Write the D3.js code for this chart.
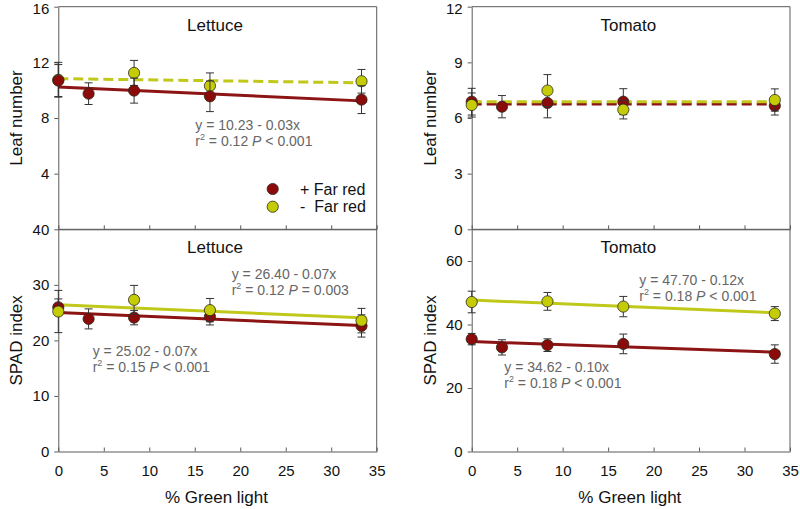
<!DOCTYPE html>
<html>
<head>
<meta charset="utf-8">
<script src="https://cdn.jsdelivr.net/npm/d3@7"></script>
<style>
  html, body { margin: 0; padding: 0; background: #fff; }
  svg { display: block; font-family: "Liberation Sans", Arial, sans-serif; }
</style>
</head>
<body>
<svg id="chart" width="800" height="509"></svg>
<script>
// ---------- data ----------
const xPlusFR = [0, 3.33, 8.33, 16.67, 33.33];
const xMinusFR = [0, 8.33, 16.67, 33.33];
const xTicks = [0, 5, 10, 15, 20, 25, 30, 35];

const lettuceLeafPlus = [10.69, 9.75, 9.97, 9.56, 9.32];
const lettuceLeafPlusErr = [1.15, 0.78, 0.9, 1.1, 1.0];
const lettuceLeafMinus = [10.75, 11.24, 10.31, 10.64];
const lettuceLeafMinusErr = [1.25, 0.9, 0.93, 0.85];

const tomatoLeafPlus = [6.88, 6.61, 6.81, 6.88, 6.66];
const tomatoLeafPlusErr = [0.72, 0.6, 0.8, 0.7, 0.5];
const tomatoLeafMinus = [6.70, 7.48, 6.45, 6.97];
const tomatoLeafMinusErr = [0.65, 0.86, 0.5, 0.6];

const lettuceSpadPlus = [25.97, 23.87, 24.1, 24.28, 22.6];
const lettuceSpadPlusErr = [1.5, 1.8, 1.3, 1.5, 2.0];
const lettuceSpadMinus = [25.2, 27.3, 25.45, 23.56];
const lettuceSpadMinusErr = [3.8, 2.6, 2.1, 2.2];

const tomatoSpadPlus = [35.4, 32.8, 33.5, 33.9, 30.7];
const tomatoSpadPlusErr = [1.8, 2.4, 2.0, 3.1, 2.9];
const tomatoSpadMinus = [47.1, 47.3, 45.65, 43.45];
const tomatoSpadMinusErr = [3.4, 2.8, 3.2, 2.2];

// regression fits: [intercept, slope]
const fitLettuceLeafPlus = [10.23, -0.03];
const fitLettuceLeafMinus = [10.83, -0.009];
const fitTomatoLeafPlus = [6.76, 0];
const fitTomatoLeafMinus = [6.88, 0];
const fitLettuceSpadPlus = [25.02, -0.07];
const fitLettuceSpadMinus = [26.40, -0.07];
const fitTomatoSpadPlus = [34.62, -0.10];
const fitTomatoSpadMinus = [47.70, -0.12];
const fitRange = [0, 33.9];

const legendLabels = ["+ Far red", "-  Far red"];

// ---------- style ----------
const RED = "#8b0a0a", RED_LINE = "#8c1414";
const YEL = "#c5cc05", YEL_LINE = "#c0c81a";
const AXIS = "#5a5a5a";

const svg = d3.select("#chart");

const colLeft = [58.3, 376.7], colRight = [471.7, 790];
const rowTop = [6.7, 229.3], rowBot = [229.3, 451.5];

const panels = [
  { title: "Lettuce", xr: colLeft, yr: rowTop, domain: [0, 16], yTicks: [4, 8, 12, 16], ylabel: "Leaf number",
    plus: lettuceLeafPlus, plusErr: lettuceLeafPlusErr, minus: lettuceLeafMinus, minusErr: lettuceLeafMinusErr,
    fitPlus: fitLettuceLeafPlus, fitMinus: fitLettuceLeafMinus, dashPlus: false, dashMinus: true,
    redOnTop: true, xLabels: false, legend: true,
    eqs: [{ dx: 137, dy: 123, l1: "y = 10.23 - 0.03x", r2: "0.12", p: "< 0.001" }] },
  { title: "Tomato", xr: colRight, yr: rowTop, domain: [0, 12], yTicks: [0, 3, 6, 9, 12], ylabel: "Leaf number",
    plus: tomatoLeafPlus, plusErr: tomatoLeafPlusErr, minus: tomatoLeafMinus, minusErr: tomatoLeafMinusErr,
    fitPlus: fitTomatoLeafPlus, fitMinus: fitTomatoLeafMinus, dashPlus: true, dashMinus: true,
    redOnTop: false, xLabels: false, legend: false, eqs: [] },
  { title: "Lettuce", xr: colLeft, yr: rowBot, domain: [0, 40], yTicks: [0, 10, 20, 30, 40], ylabel: "SPAD index",
    plus: lettuceSpadPlus, plusErr: lettuceSpadPlusErr, minus: lettuceSpadMinus, minusErr: lettuceSpadMinusErr,
    fitPlus: fitLettuceSpadPlus, fitMinus: fitLettuceSpadMinus, dashPlus: false, dashMinus: false,
    redOnTop: false, xLabels: true, legend: false,
    eqs: [{ dx: 173.4, dy: 49.7, l1: "y = 26.40 - 0.07x", r2: "0.12", p: "= 0.003" },
          { dx: 34.4, dy: 127, l1: "y = 25.02 - 0.07x", r2: "0.15", p: "< 0.001" }] },
  { title: "Tomato", xr: colRight, yr: rowBot, domain: [0, 70], yTicks: [0, 20, 40, 60], ylabel: "SPAD index",
    plus: tomatoSpadPlus, plusErr: tomatoSpadPlusErr, minus: tomatoSpadMinus, minusErr: tomatoSpadMinusErr,
    fitPlus: fitTomatoSpadPlus, fitMinus: fitTomatoSpadMinus, dashPlus: false, dashMinus: false,
    redOnTop: false, xLabels: true, legend: false,
    eqs: [{ dx: 167.6, dy: 55.7, l1: "y = 47.70 - 0.12x", r2: "0.18", p: "< 0.001" },
          { dx: 32.6, dy: 142.7, l1: "y = 34.62 - 0.10x", r2: "0.18", p: "< 0.001" }] }
];

panels.forEach(p => {
  const x = d3.scaleLinear().domain([0, 35]).range(p.xr);
  const y = d3.scaleLinear().domain(p.domain).range([p.yr[1], p.yr[0]]);
  const g = svg.append("g");

  // frame (top and right)
  g.append("line").attr("x1", p.xr[0]).attr("x2", p.xr[1]).attr("y1", p.yr[0]).attr("y2", p.yr[0])
    .attr("stroke", AXIS).attr("stroke-width", 1);
  g.append("line").attr("x1", p.xr[1]).attr("x2", p.xr[1]).attr("y1", p.yr[0]).attr("y2", p.yr[1])
    .attr("stroke", AXIS).attr("stroke-width", 1);

  // x axis
  const xa = d3.axisBottom(x).tickValues(xTicks).tickSizeInner(-4).tickSizeOuter(0).tickPadding(14);
  if (!p.xLabels) xa.tickFormat("");
  const gx = g.append("g").attr("transform", `translate(0,${p.yr[1]})`).call(xa);
  gx.select(".domain").attr("stroke", AXIS);
  gx.selectAll(".tick line").attr("stroke", AXIS);
  gx.selectAll(".tick text").attr("font-size", 15).attr("fill", "#111").attr("font-family", null);

  // y axis
  const ya = d3.axisLeft(y).tickValues(p.yTicks).tickSizeInner(4).tickSizeOuter(0).tickPadding(5);
  const gy = g.append("g").attr("transform", `translate(${p.xr[0]},0)`).call(ya);
  gy.select(".domain").attr("stroke", AXIS);
  gy.selectAll(".tick line").attr("stroke", AXIS);
  gy.selectAll(".tick text").attr("font-size", 15).attr("fill", "#111").attr("font-family", null);
  // keep the topmost labels inside the page
  if (p.yr === rowTop) {
    gy.selectAll(".tick text").filter(d => d === p.domain[1]).attr("dy", "0.45em");
  }

  // y label
  g.append("text")
    .attr("transform", `translate(${p.xr[0] - 36},${(p.yr[0] + p.yr[1]) / 2}) rotate(-90)`)
    .attr("text-anchor", "middle").attr("font-size", 17).attr("fill", "#111")
    .text(p.ylabel);

  // x label
  if (p.xLabels) {
    g.append("text").attr("x", (p.xr[0] + p.xr[1]) / 2 - 1).attr("y", 502.5)
      .attr("text-anchor", "middle").attr("font-size", 17).attr("fill", "#111")
      .text("% Green light");
  }

  // title
  g.append("text").attr("x", (p.xr[0] + p.xr[1]) / 2 - 2.5).attr("y", p.yr[0] + 24)
    .attr("text-anchor", "middle").attr("font-size", 17).attr("fill", "#111").text(p.title);

  // regression lines
  const fitLine = (fit, color, dashed) => {
    const pts = fitRange.map(v => [x(v), y(fit[0] + fit[1] * v)]);
    g.append("path").attr("d", d3.line()(pts)).attr("stroke", color).attr("stroke-width", 3)
      .attr("fill", "none").attr("stroke-dasharray", dashed ? "10,5" : null);
  };
  fitLine(p.fitPlus, RED_LINE, p.dashPlus);
  fitLine(p.fitMinus, YEL_LINE, p.dashMinus);

  // series
  const drawSeries = (xs, vals, errs, fill) => {
    const d = xs.map((xv, i) => ({ x: xv, v: vals[i], e: errs[i] }));
    const eg = g.append("g");
    d.forEach(o => {
      const cx = x(o.x), y1 = y(o.v + o.e), y2 = y(o.v - o.e);
      eg.append("line").attr("x1", cx).attr("x2", cx).attr("y1", y1).attr("y2", y2).attr("stroke", "#333").attr("stroke-width", 1);
      eg.append("line").attr("x1", cx - 4).attr("x2", cx + 4).attr("y1", y1).attr("y2", y1).attr("stroke", "#333").attr("stroke-width", 1);
      eg.append("line").attr("x1", cx - 4).attr("x2", cx + 4).attr("y1", y2).attr("y2", y2).attr("stroke", "#333").attr("stroke-width", 1);
    });
    g.append("g").selectAll("circle").data(d).join("circle")
      .attr("cx", o => x(o.x)).attr("cy", o => y(o.v)).attr("r", 5.6)
      .attr("fill", fill).attr("stroke", "#2a2a1a").attr("stroke-width", 0.8);
  };
  if (p.redOnTop) {
    drawSeries(xMinusFR, p.minus, p.minusErr, YEL);
    drawSeries(xPlusFR, p.plus, p.plusErr, RED);
  } else {
    drawSeries(xPlusFR, p.plus, p.plusErr, RED);
    drawSeries(xMinusFR, p.minus, p.minusErr, YEL);
  }

  // equations
  p.eqs.forEach(e => {
    const tx = p.xr[0] + e.dx, ty = p.yr[0] + e.dy;
    g.append("text").attr("x", tx).attr("y", ty).attr("font-size", 14).attr("fill", "#666").text(e.l1);
    const t2 = g.append("text").attr("x", tx).attr("y", ty + 16).attr("font-size", 14).attr("fill", "#666");
    t2.append("tspan").text("r");
    t2.append("tspan").attr("dy", -6).attr("font-size", 9).text("2");
    t2.append("tspan").attr("dy", 6).text(` = ${e.r2} `);
    t2.append("tspan").attr("font-style", "italic").text("P");
    t2.append("tspan").text(` ${e.p}`);
  });

  // legend
  if (p.legend) {
    const lg = g.append("g");
    [RED, YEL].forEach((c, i) => {
      lg.append("circle").attr("cx", p.xr[0] + 214.4).attr("cy", 189 + i * 17.7).attr("r", 5.6)
        .attr("fill", c).attr("stroke", "#2a2a1a").attr("stroke-width", 0.8);
      lg.append("text").attr("x", p.xr[0] + 241.7).attr("y", 194.5 + i * 17.7)
        .attr("font-size", 16).attr("fill", "#111").attr("xml:space", "preserve")
        .style("white-space", "pre").text(legendLabels[i]);
    });
  }
});
</script>
</body>
</html>
